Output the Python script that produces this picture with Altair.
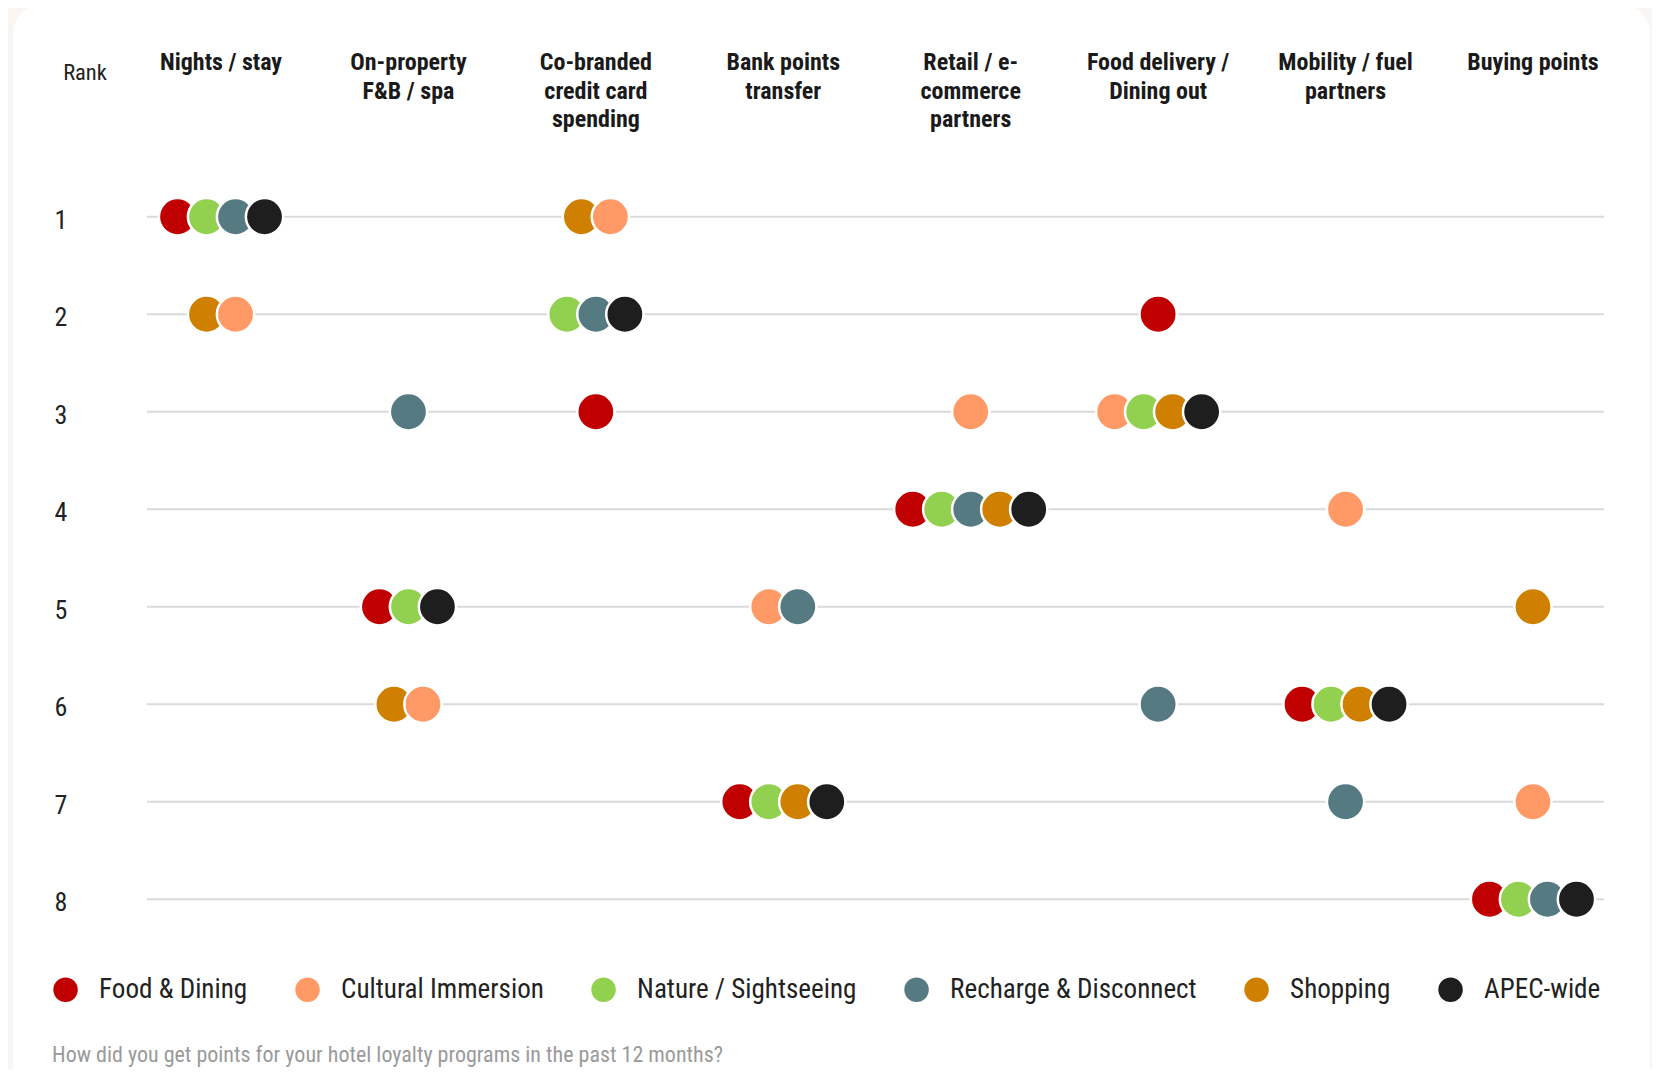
import altair as alt
import pandas as pd

# ---------------- data ----------------
categories = [
    "Nights / stay",
    "On-property\nF&B / spa",
    "Co-branded\ncredit card\nspending",
    "Bank points\ntransfer",
    "Retail / e-\ncommerce\npartners",
    "Food delivery  /\nDining out",
    "Mobility / fuel\npartners",
    "Buying points",
]
series = ["Food & Dining", "Cultural Immersion", "Nature / Sightseeing",
          "Recharge & Disconnect", "Shopping", "APEC-wide"]
colors = ["#c00000", "#ff9966", "#92d050", "#557a82", "#d08000", "#1e1e1e"]

# rank of each category for each segment (category order as above)
rank_food = [1, 5, 3, 7, 4, 2, 6, 8]
rank_cultural = [2, 6, 1, 5, 3, 3, 4, 7]
rank_nature = [1, 5, 2, 7, 4, 3, 6, 8]
rank_recharge = [1, 3, 2, 5, 4, 6, 7, 8]
rank_shopping = [2, 6, 1, 7, 4, 3, 6, 5]
rank_apec = [1, 5, 2, 7, 4, 3, 6, 8]
ranks = dict(zip(series, [rank_food, rank_cultural, rank_nature,
                          rank_recharge, rank_shopping, rank_apec]))
rank_values = [1, 2, 3, 4, 5, 6, 7, 8]
footer_text = "How did you get points for your hotel loyalty programs in the past 12 months?"

# cells where the dots appear in a different left-to-right order
cell_order = {
    (0, 2): ["Shopping", "Cultural Immersion"],
    (1, 6): ["Shopping", "Cultural Immersion"],
    (2, 1): ["Shopping", "Cultural Immersion"],
}

FONT = "Liberation Sans Narrow, Roboto Condensed, DejaVu Sans Condensed, sans-serif"
COL_PX = 187.43          # pixel distance between category columns
DOT_STEP = 29.0 / COL_PX  # dodge step within a cell, in column units

rows = []
for ci in range(len(categories)):
    for r in rank_values:
        members = [s for s in series if ranks[s][ci] == r]
        if not members:
            continue
        members = cell_order.get((ci, r), members)
        n = len(members)
        for k, s in enumerate(members):
            rows.append({"series": s, "rank": r, "col": ci,
                         "x": ci + (k - (n - 1) / 2) * DOT_STEP, "draw": len(rows)})
df = pd.DataFrame(rows)

cat_df = pd.DataFrame({"col": list(range(len(categories))), "label": categories})
rank_df = pd.DataFrame({"rank": rank_values})
one = pd.DataFrame({"a": [0]})

W, H = 1457, 780
xscale = alt.Scale(domain=[-0.395, 7.379], nice=False, zero=False)
yscale = alt.Scale(domain=[0.5, 8.5], nice=False, zero=False, reverse=True)

card = alt.Chart(one).mark_rect(fill="white", cornerRadius=30).encode(
    x=alt.value(-134), x2=alt.value(1503), y=alt.value(-164), y2=alt.value(1000)
)

rules = alt.Chart(rank_df).mark_rule(color="#dadada", strokeWidth=2).encode(
    x=alt.value(0), x2=alt.value(W),
    y=alt.Y("rank:Q", scale=yscale, axis=None),
)

points = alt.Chart(df).mark_point(
    shape="circle", filled=True, size=1390, stroke="white", strokeWidth=2.5, opacity=1
).encode(
    x=alt.X("x:Q", scale=xscale, axis=None),
    y=alt.Y("rank:Q", scale=yscale, axis=None),
    color=alt.Color(
        "series:N",
        scale=alt.Scale(domain=series, range=colors),
        legend=alt.Legend(
            title=None, orient="none", legendX=-95, legendY=808,
            direction="horizontal", columns=6, columnPadding=46,
            symbolType="circle", symbolSize=600, symbolStrokeWidth=0,
            symbolOpacity=1,
            labelFont=FONT, labelFontSize=27.1, labelColor="#222222",
            labelOffset=20, labelLimit=400, padding=0,
        ),
    ),
    order=alt.Order("draw:Q"),
)

headers = alt.Chart(cat_df).mark_text(
    font=FONT, fontSize=24, fontWeight="bold", color="#1a1a1a",
    lineBreak="\n", lineHeight=28.5, align="center", baseline="top",
).encode(
    x=alt.X("col:Q", scale=xscale, axis=None),
    y=alt.value(-117),
    text="label:N",
)

rank_labels = alt.Chart(rank_df).mark_text(
    font=FONT, fontSize=26, color="#222222", align="center", baseline="middle", dy=4,
).encode(
    x=alt.value(-86),
    y=alt.Y("rank:Q", scale=yscale, axis=None),
    text="rank:Q",
)

rank_title = alt.Chart(one).mark_text(
    font=FONT, fontSize=22.5, color="#222222", align="center", baseline="middle",
    text="Rank",
).encode(x=alt.value(-62), y=alt.value(-95))

footer = alt.Chart(one).mark_text(
    font=FONT, fontSize=22, color="#9a9a9a", align="left", baseline="middle",
    text=footer_text,
).encode(x=alt.value(-95), y=alt.value(887))

chart = alt.layer(card, rules, points, headers, rank_labels, rank_title, footer).properties(
    width=W, height=H,
    autosize=alt.AutoSizeParams(type="none"),
    padding={"left": 139, "top": 160, "right": 48, "bottom": 121},
    background="#f8f5f2",
).configure_view(stroke=None)

chart.save("out.html", embed_options={"renderer": "svg", "actions": False})
